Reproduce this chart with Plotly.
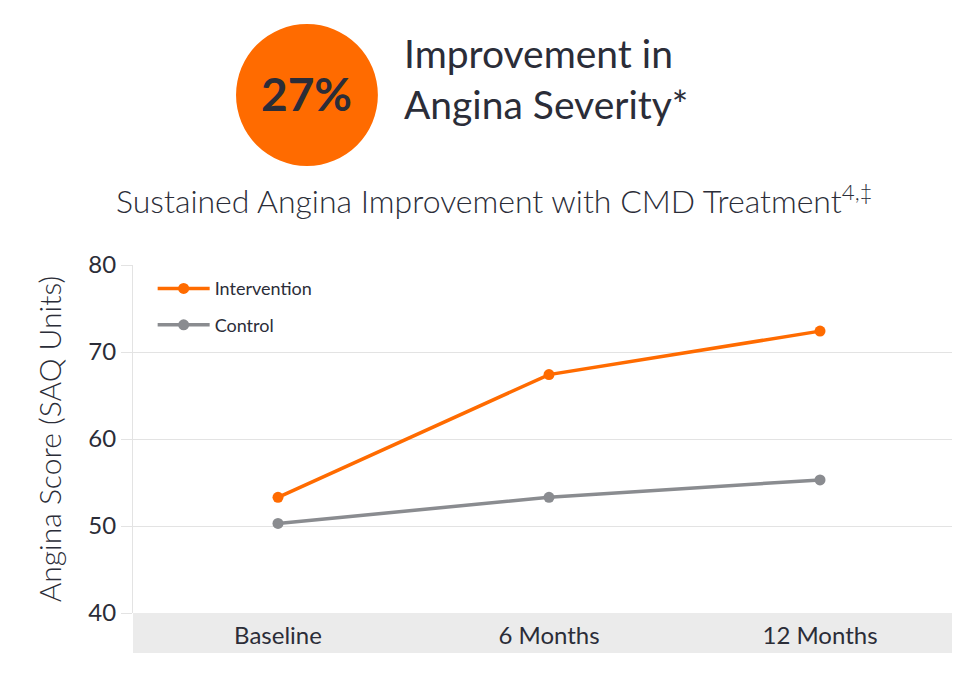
import plotly.graph_objects as go

# data
periods = ["Baseline", "6 Months", "12 Months"]
intervention = [53.3, 67.4, 72.4]
control = [50.3, 53.3, 55.3]
y_ticks = [40, 50, 60, 70, 80]

orange = "#FF6B00"
gray = "#8A8C90"
ink = "#2B2D38"
font = "Lato"

fig = go.Figure()

fig.add_trace(go.Scatter(x=[0, 1, 2], y=intervention, mode="lines+markers", name="Intervention",
                         legendgroup="a",
                         line=dict(color=orange, width=3.5), marker=dict(size=11, color=orange)))
fig.add_trace(go.Scatter(x=[0, 1, 2], y=control, mode="lines+markers", name="Control",
                         legendgroup="b",
                         line=dict(color=gray, width=3.5), marker=dict(size=11, color=gray)))

# gray band behind the category labels
fig.add_shape(type="rect", xref="paper", yref="paper", x0=0, x1=1, y0=-0.115, y1=0,
              fillcolor="#EBEBEB", line_width=0, layer="below")
# orange badge
fig.add_shape(type="circle", xref="paper", yref="paper", x0=0.1258, x1=0.299, y0=1.2845, y1=1.6925,
              fillcolor=orange, line_width=0)

fig.add_annotation(text="<b>27%</b>", xref="paper", yref="paper", x=0.2124, y=1.494,
                   xanchor="center", yanchor="middle",
                   showarrow=False, font=dict(family=font, size=46, color=ink))
fig.add_annotation(text="Improvement in<br>Angina Severity*", xref="paper", yref="paper",
                   x=0.328, y=1.535, xanchor="left", yanchor="middle", align="left",
                   showarrow=False, font=dict(family=font, size=39, color=ink))
fig.add_annotation(text="Sustained Angina Improvement with CMD Treatment<sup>4,‡</sup>",
                   xref="paper", yref="paper", x=0.442, y=1.19, xanchor="center", yanchor="middle",
                   showarrow=False, font=dict(family=font, size=32, color=ink, weight=300))

fig.update_layout(
    width=972, height=666,
    margin=dict(l=125, r=28, t=257, b=61),
    paper_bgcolor="white", plot_bgcolor="white",
    font=dict(family=font, color=ink),
    showlegend=True,
    legend=dict(x=0.024, y=0.985, xanchor="left", yanchor="top", bgcolor="rgba(0,0,0,0)",
                font=dict(size=18, color=ink), itemwidth=52, tracegroupgap=10),
    xaxis=dict(range=[-0.535, 2.487], tickvals=[0, 1, 2], ticktext=periods, showgrid=False,
               zeroline=False, showline=False, tickfont=dict(size=24, color=ink), ticklen=0,
               ticklabelstandoff=6),
    yaxis=dict(range=[40, 80], tickvals=y_ticks, showgrid=True, gridcolor="#E3E3E3",
               zeroline=False, showline=True, linecolor="#E3E3E3", ticks="outside",
               ticklen=11, tickcolor="#E3E3E3", tickfont=dict(size=24, color=ink),
               title=dict(text="Angina Score (SAQ Units)",
                          font=dict(size=30, color=ink, weight=300), standoff=17)),
)

fig.write_html("out.html")
